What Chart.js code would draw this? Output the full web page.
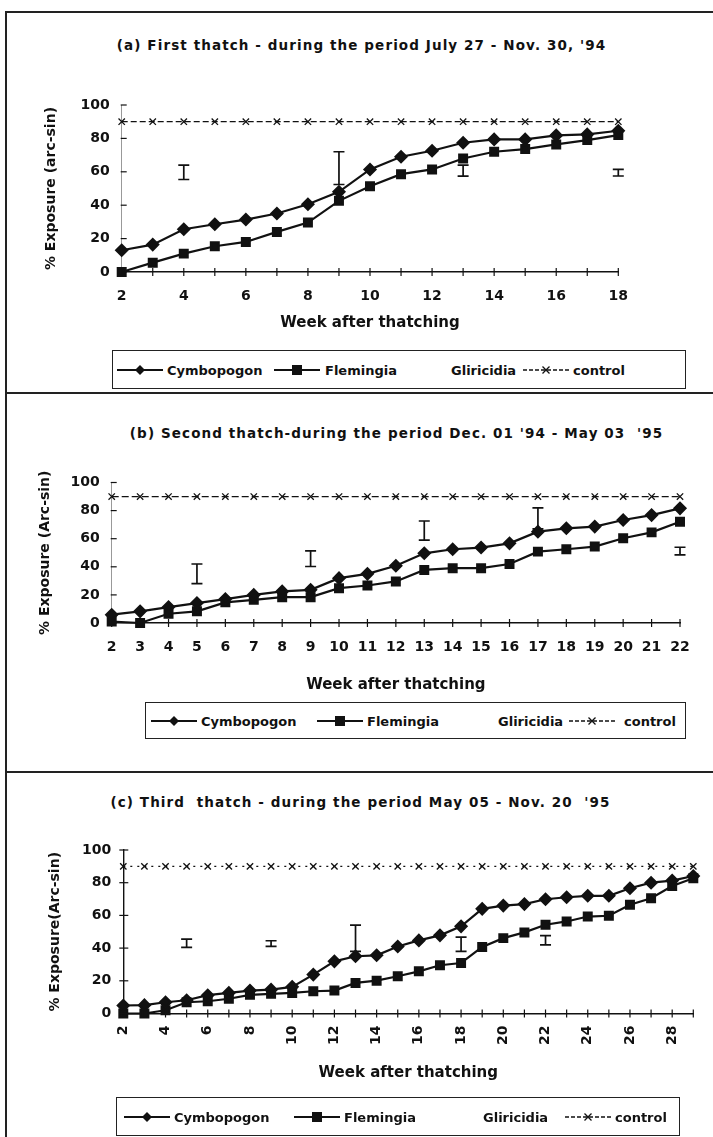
<!DOCTYPE html>
<html>
<head>
<meta charset="utf-8">
<script src="https://cdn.jsdelivr.net/npm/chart.js@4.4.1/dist/chart.umd.min.js"></script>
<style>
  body { margin: 0; background: #fff; }
  #page { position: relative; width: 713px; height: 1137px; overflow: hidden;
          font-family: "DejaVu Sans", sans-serif; font-weight: bold; color: #111; }
  .rule { position: absolute; background: #222; }
  .title { position: absolute; width: 713px; text-align: center; font-size: 13.5px;
           line-height: 18px; letter-spacing: 1.1px; white-space: pre; }
  .chartbox { position: absolute; left: 0; width: 713px; }
  .legend { position: absolute; border: 1.5px solid #222; }
  .legend span, .legend svg { position: absolute; top: 50%; transform: translateY(-50%); }
  .legend span { font-size: 13px; white-space: nowrap; }
</style>
</head>
<body>
<div id="page">
  <div class="rule" style="left:5px; top:11px; width:708px; height:1.5px"></div>
  <div class="rule" style="left:5px; top:11px; width:1.5px; height:1126px"></div>
  <div class="rule" style="left:5px; top:392px; width:708px; height:2px"></div>
  <div class="rule" style="left:5px; top:771px; width:708px; height:2px"></div>

  <div class="title" style="left:5px; top:36px">(a) First thatch - during the period July 27 - Nov. 30, '94</div>
  <div class="chartbox" style="top:60px; height:290px"><canvas id="chartA" width="713" height="290"></canvas></div>
  <div class="legend" id="legA" style="left:112px; top:350px; width:572px; height:37px"></div>

  <div class="title" style="left:40px; top:424px">(b) Second thatch-during the period Dec. 01 '94 - May 03  '95</div>
  <div class="chartbox" style="top:450px; height:252px"><canvas id="chartB" width="713" height="252"></canvas></div>
  <div class="legend" id="legB" style="left:145px; top:702px; width:539px; height:35px"></div>

  <div class="title" style="left:4px; top:793px">(c) Third  thatch - during the period May 05 - Nov. 20  '95</div>
  <div class="chartbox" style="top:820px; height:278px"><canvas id="chartC" width="713" height="278"></canvas></div>
  <div class="legend" id="legC" style="left:116px; top:1097px; width:562px; height:37px"></div>
</div>

<script>
// series names (Gliricidia did not survive the scan, so it has no readable values)
const seriesNames = ["Cymbopogon", "Flemingia", "Gliricidia", "control"];

// (a) First thatch
const weeksA = [2, 3, 4, 5, 6, 7, 8, 9, 10, 11, 12, 13, 14, 15, 16, 17, 18];
const xLabelsA = [2, 4, 6, 8, 10, 12, 14, 16, 18];
const cymA = [13, 16.4, 25.6, 28.6, 31.4, 35, 40.6, 48, 61.4, 69, 72.6, 77.4, 79.4, 79.4, 81.8, 82.4, 84.6];
const flemA = [0, 5.6, 11, 15.4, 18, 24, 29.6, 42.6, 51.4, 58.6, 61.4, 68, 72, 73.6, 76.4, 79, 82];
const ctrlA = [90, 90, 90, 90, 90, 90, 90, 90, 90, 90, 90, 90, 90, 90, 90, 90, 90];
const errWeeksA = [4, 9, 13, 18];
const errLowA = [55.4, 52.4, 57.4, 57.5];
const errHighA = [64, 72, 64, 61.5];

// (b) Second thatch
const weeksB = [2, 3, 4, 5, 6, 7, 8, 9, 10, 11, 12, 13, 14, 15, 16, 17, 18, 19, 20, 21, 22];
const xLabelsB = [2, 3, 4, 5, 6, 7, 8, 9, 10, 11, 12, 13, 14, 15, 16, 17, 18, 19, 20, 21, 22];
const cymB = [5.9, 8.3, 11.3, 14.2, 17, 20, 22.5, 23.6, 31.9, 35, 40.7, 49.6, 52.5, 53.7, 56.7, 65, 67.4, 68.6, 73.3, 76.8, 81.6];
const flemB = [1, 0, 6.6, 8.3, 14.7, 16.5, 18.4, 18.4, 24.8, 26.7, 29.6, 37.8, 39, 39, 42, 50.8, 52.5, 54.4, 60.3, 64.5, 72.1];
const ctrlB = [90, 90, 90, 90, 90, 90, 90, 90, 90, 90, 90, 90, 90, 90, 90, 90, 90, 90, 90, 90, 90];
const errWeeksB = [5, 9, 13, 17, 22];
const errLowB = [28, 40.2, 59, 67, 48.5];
const errHighB = [42, 51.3, 72.6, 82, 53.9];

// (c) Third thatch
const weeksC = [2, 3, 4, 5, 6, 7, 8, 9, 10, 11, 12, 13, 14, 15, 16, 17, 18, 19, 20, 21, 22, 23, 24, 25, 26, 27, 28, 29];
const xLabelsC = [2, 4, 6, 8, 10, 12, 14, 16, 18, 20, 22, 24, 26, 28];
const cymC = [4.9, 5.1, 6.9, 8.1, 11.2, 12.6, 14, 14.6, 16.3, 23.8, 31.9, 35, 35.6, 41, 44.7, 47.8, 53.3, 64, 66, 66.9, 69.9, 71.1, 72, 72, 76.6, 80, 81.3, 84.1];
const flemC = [0, 0, 2, 6.9, 7.5, 9, 11.4, 12, 12.6, 13.6, 14, 18.7, 20.1, 22.8, 25.8, 29.5, 30.9, 40.7, 46.1, 49.6, 54.3, 56.3, 59.3, 59.8, 66.5, 70.5, 78, 82.7];
const ctrlC = [90, 90, 90, 90, 90, 90, 90, 90, 90, 90, 90, 90, 90, 90, 90, 90, 90, 90, 90, 90, 90, 90, 90, 90, 90, 90, 90, 90];
const errWeeksC = [5, 9, 13, 18, 22];
const errLowC = [40.5, 41, 38, 38, 42];
const errHighC = [45.5, 44.5, 54, 46.7, 47.6];

const yTicks = [0, 20, 40, 60, 80, 100];
const ink = "#111";

Chart.defaults.font.family = "DejaVu Sans";
Chart.defaults.font.weight = "bold";
Chart.defaults.color = ink;

// cross tick marks on both axes + the LSD style error bars
const marksPlugin = {
  id: "marks",
  afterDatasetsDraw(chart, args, o) {
    const ctx = chart.ctx, xs = chart.scales.x, ys = chart.scales.y;
    const y0 = ys.getPixelForValue(0), x0 = xs.getPixelForValue(xs.min);
    ctx.save();
    ctx.strokeStyle = ink;
    ctx.lineWidth = 1.2;
    xs.ticks.forEach(t => {
      const px = xs.getPixelForValue(t.value);
      ctx.beginPath(); ctx.moveTo(px, y0 - 4); ctx.lineTo(px, y0 + 4); ctx.stroke();
    });
    ys.ticks.forEach(t => {
      const py = ys.getPixelForValue(t.value);
      ctx.beginPath(); ctx.moveTo(x0 - o.tickIn, py); ctx.lineTo(x0 + 5, py); ctx.stroke();
    });
    ctx.lineWidth = 1.7;
    o.weeks.forEach((w, i) => {
      const px = xs.getPixelForValue(w);
      const lo = ys.getPixelForValue(o.low[i]), hi = ys.getPixelForValue(o.high[i]);
      ctx.beginPath();
      ctx.moveTo(px, lo); ctx.lineTo(px, hi);
      ctx.moveTo(px - 5.5, lo); ctx.lineTo(px + 5.5, lo);
      ctx.moveTo(px - 5.5, hi); ctx.lineTo(px + 5.5, hi);
      ctx.stroke();
    });
    ctx.restore();
  }
};

function pts(weeks, vals) {
  return weeks.map((w, i) => ({ x: w, y: vals[i] }));
}

function makeChart(id, p) {
  return new Chart(document.getElementById(id), {
    type: "line",
    data: {
      datasets: [
        { label: seriesNames[0], data: pts(p.weeks, p.cym), borderColor: ink, backgroundColor: ink,
          borderWidth: 2.2, pointStyle: "rectRot", pointRadius: 5.5, clip: false },
        { label: seriesNames[1], data: pts(p.weeks, p.flem), borderColor: ink, backgroundColor: ink,
          borderWidth: 2.2, pointStyle: "rect", pointRadius: 5.5, clip: false },
        { label: seriesNames[2], data: [], borderColor: "rgba(0,0,0,0)", pointRadius: 0 },
        { label: seriesNames[3], data: pts(p.weeks, p.ctrl), borderColor: ink, backgroundColor: ink,
          borderWidth: 1.3, borderDash: p.dash, pointStyle: "crossRot", pointRadius: 4.5,
          pointBorderWidth: 1.3, clip: false }
      ]
    },
    options: {
      responsive: false,
      animation: false,
      devicePixelRatio: 1,
      layout: { padding: p.pad },
      plugins: {
        legend: { display: false },
        tooltip: { enabled: false },
        marks: { weeks: p.errWeeks, low: p.errLow, high: p.errHigh, tickIn: p.tickIn }
      },
      scales: {
        x: {
          type: "linear",
          min: p.weeks[0],
          max: p.weeks[p.weeks.length - 1],
          afterBuildTicks: s => { s.ticks = p.weeks.map(v => ({ value: v })); },
          afterFit: s => { s.height = p.xH; s.paddingLeft = 0; s.paddingRight = 0; },
          grid: { display: false, drawTicks: false },
          border: { display: true, color: ink, width: 1.6 },
          ticks: {
            autoSkip: false, padding: p.xPad, minRotation: p.rot, maxRotation: p.rot,
            font: { size: 14 },
            callback: v => (p.xLabels.includes(v) ? String(v) : "")
          },
          title: { display: true, text: "Week after thatching", font: { size: 15 }, padding: 0 }
        },
        y: {
          min: 0,
          max: 100,
          afterBuildTicks: s => { s.ticks = yTicks.map(v => ({ value: v })); },
          afterFit: s => { s.width = p.yW; s.paddingTop = 0; s.paddingBottom = 0; },
          grid: { display: false, drawTicks: false },
          border: p.yBorder,
          ticks: { padding: 12, font: { size: 14 } },
          title: { display: true, text: p.yTitle, font: { size: 14 }, padding: 0 }
        }
      }
    },
    plugins: [marksPlugin]
  });
}

makeChart("chartA", {
  weeks: weeksA, cym: cymA, flem: flemA, ctrl: ctrlA, xLabels: xLabelsA,
  errWeeks: errWeeksA, errLow: errLowA, errHigh: errHighA,
  pad: { left: 43, right: 94.7, top: 45, bottom: 18 }, yW: 78.7, xH: 60, xPad: 16, rot: 0,
  dash: [6, 3], tickIn: 1, yTitle: "% Exposure (arc-sin)",
  yBorder: { display: true, color: "#999", width: 1, dash: [3, 5] }
});

makeChart("chartB", {
  weeks: weeksB, cym: cymB, flem: flemB, ctrl: ctrlB, xLabels: xLabelsB,
  errWeeks: errWeeksB, errLow: errLowB, errHigh: errHighB,
  pad: { left: 37, right: 33, top: 32.5, bottom: 8 }, yW: 74.7, xH: 71, xPad: 16, rot: 0,
  dash: [7, 3], tickIn: 1, yTitle: "% Exposure (Arc-sin)",
  yBorder: { display: true, color: "#999", width: 1, dash: [3, 5] }
});

makeChart("chartC", {
  weeks: weeksC, cym: cymC, flem: flemC, ctrl: ctrlC, xLabels: xLabelsC,
  errWeeks: errWeeksC, errLow: errLowC, errHigh: errHighC,
  pad: { left: 47, right: 19.7, top: 30, bottom: 16 }, yW: 76.3, xH: 68.5, xPad: 12, rot: 90,
  dash: [2, 5], tickIn: 4, yTitle: "% Exposure(Arc-sin)",
  yBorder: { display: true, color: ink, width: 1.4 }
});

// boxed legends: [symbol left, text left] per series inside each box
const legendSlotsA = [[4, 54], [161, 212], [null, 338], [410, 460]];
const legendSlotsB = [[5, 55], [171, 221], [null, 352], [423, 478]];
const legendSlotsC = [[7, 57], [177, 227], [null, 366], [448, 498]];

function symbolSvg(i) {
  const line = i === 3
    ? '<line x1="0" y1="7" x2="46" y2="7" stroke="#111" stroke-width="1.3" stroke-dasharray="4,2"/>'
    : '<line x1="0" y1="7" x2="46" y2="7" stroke="#111" stroke-width="2"/>';
  let mark = "";
  if (i === 0) mark = '<polygon points="23,2 28,7 23,12 18,7" fill="#111"/>';
  if (i === 1) mark = '<rect x="18" y="2" width="10" height="10" fill="#111"/>';
  if (i === 3) mark = '<path d="M19.5 3.5 L26.5 10.5 M26.5 3.5 L19.5 10.5" stroke="#111" stroke-width="1.3"/>';
  return '<svg width="46" height="14" style="left:LEFTpx">' + line + mark + "</svg>";
}

function buildLegend(id, slots) {
  const box = document.getElementById(id);
  let html = "";
  seriesNames.forEach((name, i) => {
    const [symLeft, textLeft] = slots[i];
    if (symLeft !== null) html += symbolSvg(i).replace("LEFT", symLeft);
    html += '<span style="left:' + textLeft + 'px">' + name + "</span>";
  });
  box.innerHTML = html;
}

buildLegend("legA", legendSlotsA);
buildLegend("legB", legendSlotsB);
buildLegend("legC", legendSlotsC);
</script>
</body>
</html>
